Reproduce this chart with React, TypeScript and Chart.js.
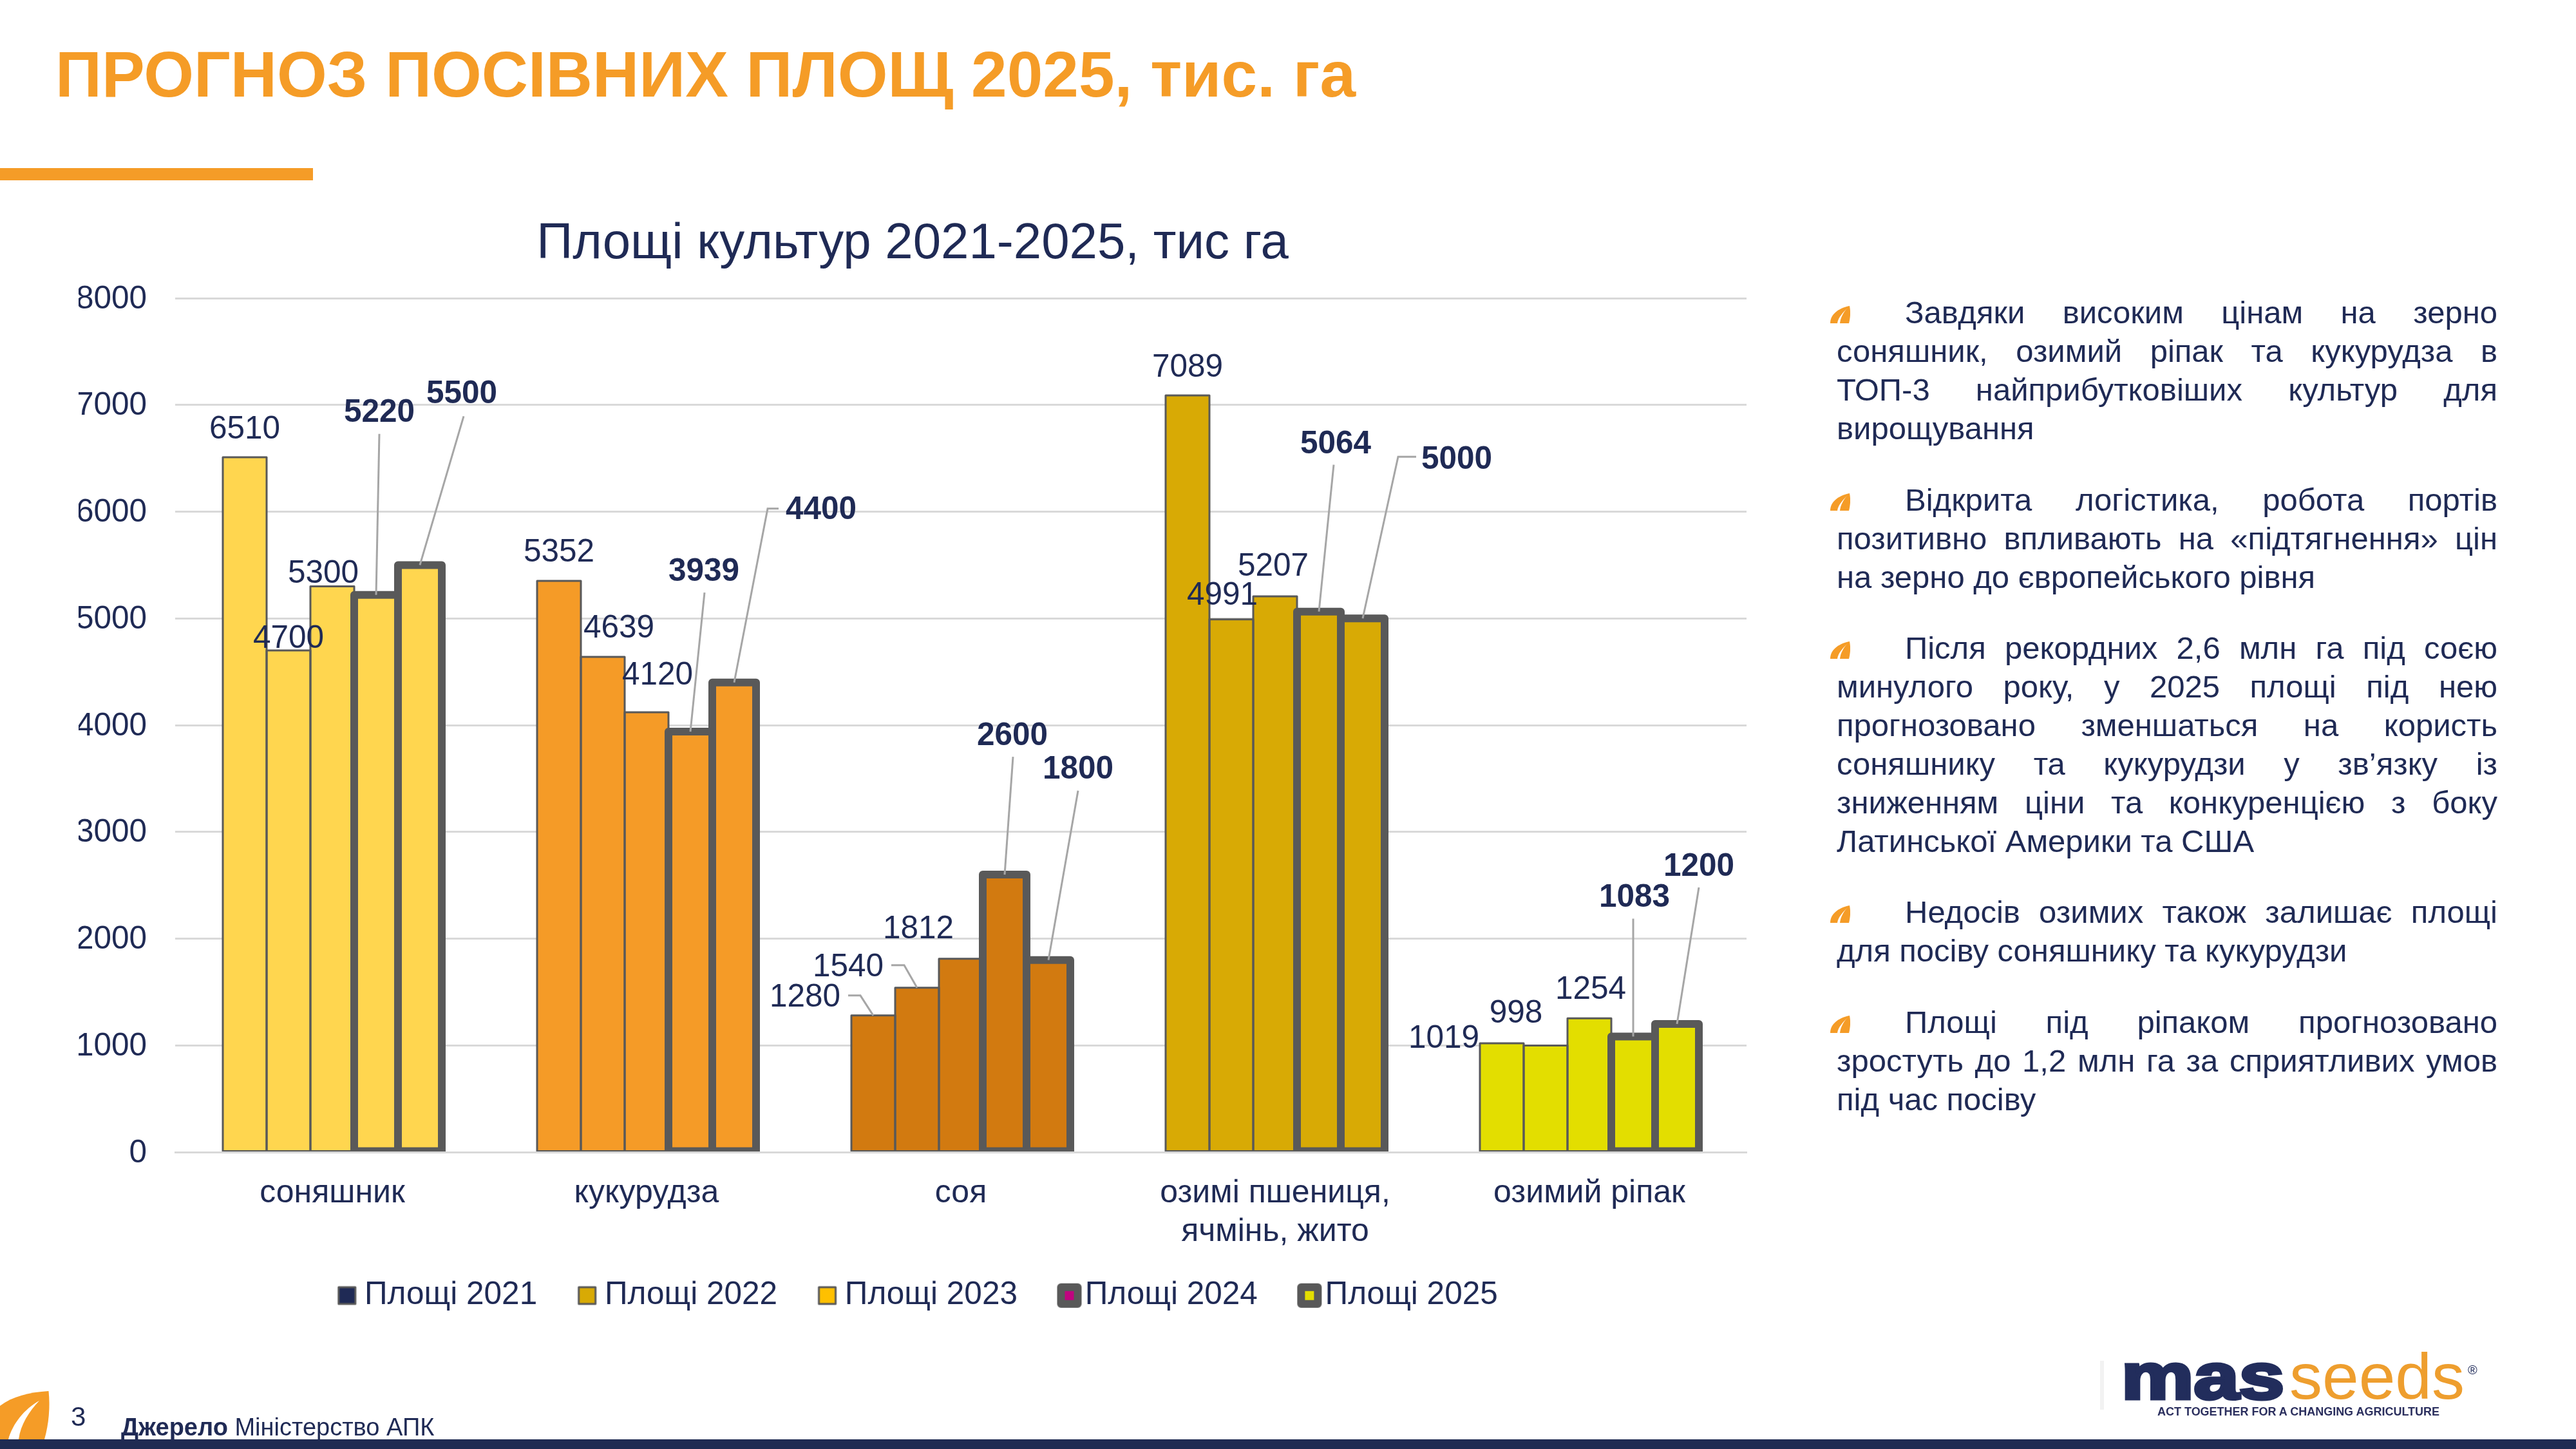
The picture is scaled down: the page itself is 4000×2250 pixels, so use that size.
import React, { useEffect, useRef } from "react";
import { Chart, registerables } from "chart.js";

Chart.register(...registerables);

const FONT = "'Liberation Sans', Arial, sans-serif";
const NAVY = "#1F2A55";
const ORANGE = "#F59C27";
const STROKE = "#595959";
const LEADER = "#A6A6A6";

const categories: (string | string[])[] = ["соняшник", "кукурудза", "соя", ["озимі пшениця,", "ячмінь, жито"], "озимий ріпак"];
const categoryColors = ["#FFD64F", "#F59B27", "#D27A10", "#D8AA05", "#E3DE00"];

const seriesNames = ["Площі 2021", "Площі 2022", "Площі 2023", "Площі 2024", "Площі 2025"];
const legendColors = ["#1F2A55", "#D8AA05", "#FFC000", "#C0047F", "#E3DE00"];
const strokeWidths = [3, 3, 3, 12, 12];

const area2021 = [6510, 5352, 1280, 7089, 1019];
const area2022 = [4700, 4639, 1540, 4991, 998];
const area2023 = [5300, 4120, 1812, 5207, 1254];
const area2024 = [5220, 3939, 2600, 5064, 1083];
const area2025 = [5500, 4400, 1800, 5000, 1200];
const seriesValues = [area2021, area2022, area2023, area2024, area2025];

// label centre relative to top-centre of its bar, per series then category
const labelOffsets: number[][][] = [
  [[0, -45], [0, -46], [-106, -29], [0, -45], [-90, -9]],
  [[0, -20], [25, -46], [-107, -33], [-14, -38], [-46, -51]],
  [[-14, -21], [17, -59], [-66, -47], [-3, -48], [2, -46]],
  [[5, -284], [21, -250], [12, -217], [26, -261], [2, -217]],
  [[65, -267], [135, -269], [46, -297], [146, -248], [34, -246]],
];

// leader-line bend points relative to top-centre of the bar
const leaderLines: (number[][] | null)[][] = [
  [null, null, [[0, 0], [-20, -31], [-39, -31]], null, null],
  [null, null, [[0, 0], [-20, -35], [-40, -35]], null, null],
  [null, null, null, null, null],
  [[[0, 0], [5, -250]], [[0, 0], [22, -216]], [[0, 0], [13, -183]], [[0, 0], [23, -228]], [[0, 0], [0, -183]]],
  [[[0, 0], [68, -231]], [[0, 0], [52, -270], [69, -270]], [[0, 0], [46, -263]], [[0, 0], [55, -251], [83, -251]], [[0, 0], [34, -212]]],
];

const bulletParagraphs = [
  { lines: ["Завдяки високим цінам на зерно", "соняшник, озимий ріпак та кукурудза в", "ТОП-3 найприбутковіших культур для", "вирощування"], ys: [485, 545, 605, 665] },
  { lines: ["Відкрита логістика, робота портів", "позитивно впливають на «підтягнення» цін", "на зерно до європейського рівня"], ys: [776, 836, 896] },
  { lines: ["Після рекордних 2,6 млн га під соєю", "минулого року, у 2025 площі під нею", "прогнозовано зменшаться на користь", "соняшнику та кукурудзи у зв’язку із", "зниженням ціни та конкуренцією з боку", "Латинської Америки та США"], ys: [1006, 1066, 1126, 1186, 1246, 1306] },
  { lines: ["Недосів озимих також залишає площі", "для посіву соняшнику та кукурудзи"], ys: [1416, 1476] },
  { lines: ["Площі під ріпаком прогнозовано", "зростуть до 1,2 млн га за сприятливих умов", "під час посіву"], ys: [1587, 1647, 1707] },
];

function makeSwatch(color: string, bold: boolean): HTMLCanvasElement {
  const c = document.createElement("canvas");
  c.width = 64;
  c.height = 64;
  const ctx = c.getContext("2d")!;
  const cx = 32 + (bold ? 8 : 5);
  const cy = 32;
  ctx.lineJoin = "round";
  ctx.fillStyle = color;
  ctx.strokeStyle = STROKE;
  ctx.lineWidth = bold ? 12 : 3;
  ctx.beginPath();
  ctx.rect(cx - 13, cy - 13, 26, 26);
  ctx.fill();
  ctx.stroke();
  if (bold) {
    ctx.fillStyle = color;
    ctx.fillRect(cx - 7, cy - 6, 14, 12);
  }
  return c;
}

const barDecor = {
  id: "barDecor",
  afterLayout(chart: any) {
    chart.legend.left += 18;
  },
  afterDatasetsDraw(chart: any) {
    const { ctx } = chart;
    ctx.save();
    ctx.beginPath();
    ctx.rect(0, 0, chart.width, chart.chartArea.bottom + 1);
    ctx.clip();
    ctx.strokeStyle = STROKE;
    ctx.lineJoin = "round";
    chart.data.datasets.forEach((ds: any, si: number) => {
      ctx.lineWidth = strokeWidths[si];
      chart.getDatasetMeta(si).data.forEach((el: any) => {
        const p = el.getProps(["x", "y", "base", "width"], true);
        ctx.strokeRect(p.x - p.width / 2, p.y, p.width, p.base - p.y);
      });
    });
    ctx.restore();

    ctx.save();
    chart.data.datasets.forEach((ds: any, si: number) => {
      const meta = chart.getDatasetMeta(si);
      meta.data.forEach((el: any, ci: number) => {
        const p = el.getProps(["x", "y"], true);
        const leader = leaderLines[si][ci];
        if (leader) {
          ctx.strokeStyle = LEADER;
          ctx.lineWidth = 3;
          ctx.beginPath();
          leader.forEach((pt, i) => {
            if (i === 0) ctx.moveTo(p.x + pt[0], p.y + pt[1]);
            else ctx.lineTo(p.x + pt[0], p.y + pt[1]);
          });
          ctx.stroke();
        }
      });
    });
    chart.data.datasets.forEach((ds: any, si: number) => {
      const meta = chart.getDatasetMeta(si);
      meta.data.forEach((el: any, ci: number) => {
        const p = el.getProps(["x", "y"], true);
        const off = labelOffsets[si][ci];
        ctx.fillStyle = NAVY;
        ctx.textAlign = "center";
        ctx.textBaseline = "middle";
        ctx.font = `${si >= 3 ? "bold " : ""}49.5px ${FONT}`;
        ctx.fillText(String(ds.data[ci]), p.x + off[0], p.y + off[1] + 2);
      });
    });
    ctx.restore();
  },
};

function Leaf({ x, y, w, h }: { x: number; y: number; w: number; h: number }) {
  return (
    <svg style={{ position: "absolute", left: x, top: y }} width={w} height={h} viewBox="0 0 31 27" preserveAspectRatio="none">
      <path d="M0 27 C0 14 11 4 30 0 C32 10 31 19 29 27 Z" fill={ORANGE} />
      <path d="M15 27 C16 18 21 9 27 3 C21 9 12 18 11 27 Z" fill="#fff" />
    </svg>
  );
}

export default function App() {
  const ref = useRef<HTMLCanvasElement>(null);

  useEffect(() => {
    const chart = new Chart(ref.current!, {
      type: "bar",
      data: {
        labels: categories as any,
        datasets: seriesNames.map((name, i) => ({
          label: name,
          data: seriesValues[i],
          backgroundColor: categoryColors,
          borderWidth: 0,
          barPercentage: 1,
          categoryPercentage: 340 / 488,
        })),
      },
      options: {
        responsive: false,
        animation: false,
        devicePixelRatio: 1,
        layout: { padding: { left: 122, right: 1288, top: 333, bottom: 203.5 } },
        plugins: {
          title: {
            display: true,
            text: "Площі культур 2021-2025, тис га",
            color: NAVY,
            font: { family: FONT, size: 78, weight: "normal" },
            padding: { top: 0, bottom: 36.4 },
          },
          legend: {
            display: true,
            position: "bottom",
            labels: {
              usePointStyle: true,
              pointStyleWidth: 15,
              boxHeight: 15,
              color: NAVY,
              font: { family: FONT, size: 49.5 },
              padding: 65,
              generateLabels: () =>
                seriesNames.map((name, i) => ({
                  text: name,
                  fontColor: NAVY,
                  pointStyle: makeSwatch(legendColors[i], i >= 3),
                  datasetIndex: i,
                  hidden: false,
                })) as any,
            },
          },
          tooltip: { enabled: false },
        },
        scales: {
          x: {
            afterFit: (s: any) => {
              s.height = 133;
              s._computeLabelArea = () => undefined;
            },
            grid: { display: false, drawTicks: false },
            border: { display: true, color: "#D9D9D9", width: 3, z: 1 },
            ticks: { color: NAVY, font: { family: FONT, size: 50 }, padding: 34, maxRotation: 0, autoSkip: false },
          },
          y: {
            min: 0,
            max: 8000,
            afterFit: (s: any) => {
              s.width = 150;
            },
            grid: { color: "#D9D9D9", lineWidth: 3, drawTicks: false },
            border: { display: false },
            ticks: {
              stepSize: 1000,
              color: NAVY,
              font: { family: FONT, size: 49.5 },
              padding: 44,
              labelOffset: 2,
              callback: (v: any) => String(v),
            },
          },
        },
      },
      plugins: [barDecor],
    } as any);
    return () => chart.destroy();
  }, []);

  const abs: React.CSSProperties = { position: "absolute", whiteSpace: "pre", fontFamily: FONT };

  return (
    <div style={{ position: "absolute", left: 0, top: 0, width: 4000, height: 2250, overflow: "hidden", background: "#fff", fontFamily: FONT }}>
      <canvas ref={ref} width={4000} height={2250} style={{ position: "absolute", left: 0, top: 0, width: 4000, height: 2250 }} />

      <div style={{ ...abs, left: 86, top: 55, height: 120, lineHeight: "120px", fontSize: 100, fontWeight: 700, color: ORANGE }}>
        ПРОГНОЗ ПОСІВНИХ ПЛОЩ 2025, тис. га
      </div>
      <div style={{ position: "absolute", left: 0, top: 261, width: 486, height: 19, background: ORANGE }} />

      {bulletParagraphs.map((para, pi) => (
        <React.Fragment key={pi}>
          <Leaf x={2842} y={para.ys[0] - 10} w={31} h={27} />
          {para.lines.map((line, li) => {
            const isLast = li === para.lines.length - 1;
            const isFirst = li === 0;
            return (
              <div
                key={li}
                style={{
                  position: "absolute",
                  fontFamily: FONT,
                  left: isFirst ? 2958 : 2852,
                  width: isFirst ? 920 : 1026,
                  top: para.ys[li] - 30,
                  height: 60,
                  lineHeight: "60px",
                  fontSize: 49,
                  color: NAVY,
                  whiteSpace: "nowrap",
                  textAlign: "justify",
                  textAlignLast: isLast && !isFirst ? "left" : "justify",
                }}
              >
                {line}
              </div>
            );
          })}
        </React.Fragment>
      ))}

      <div style={{ position: "absolute", left: 0, top: 2235, width: 4000, height: 15, background: "#1F2B52" }} />
      <svg style={{ position: "absolute", left: 0, top: 2160 }} width={80} height={75} viewBox="0 0 80 75">
        <path d="M0 23 C20 8 45 2 75.5 0 C78 25 76 50 69 75 L0 75 Z" fill={ORANGE} />
        <path d="M13 75 C20 50 38 28 61 15 C45 32 32 52 29 75 Z" fill="#fff" />
      </svg>
      <div style={{ ...abs, left: 110, top: 2175, height: 50, lineHeight: "50px", fontSize: 42, color: NAVY }}>3</div>
      <div style={{ ...abs, left: 188, top: 2194, height: 44, lineHeight: "44px", fontSize: 38, color: NAVY }}>
        <b>Джерело</b> Міністерство АПК
      </div>

      <div style={{ position: "absolute", left: 3261, top: 2113, width: 6, height: 76, background: "#F2F2F2" }} />
      <svg style={{ position: "absolute", left: 3280, top: 2090 }} width={620} height={120} viewBox="0 0 620 120">
        <text x="14" y="82" fontFamily="Liberation Sans" fontWeight="700" fontSize="100" fill="#222D5C" stroke="#222D5C" strokeWidth="5" textLength="253" lengthAdjust="spacingAndGlyphs">mas</text>
        <text x="275" y="82" fontFamily="Liberation Sans" fontSize="100" fill="#EE9E2E" textLength="272" lengthAdjust="spacingAndGlyphs">seeds</text>
        <text x="552" y="44" fontFamily="Liberation Sans" fontSize="20" fill="#222D5C">®</text>
        <text x="70" y="108" fontFamily="Liberation Sans" fontWeight="700" fontSize="19" fill="#2B2F5E" textLength="438" lengthAdjust="spacingAndGlyphs">ACT TOGETHER FOR A CHANGING AGRICULTURE</text>
      </svg>
    </div>
  );
}
